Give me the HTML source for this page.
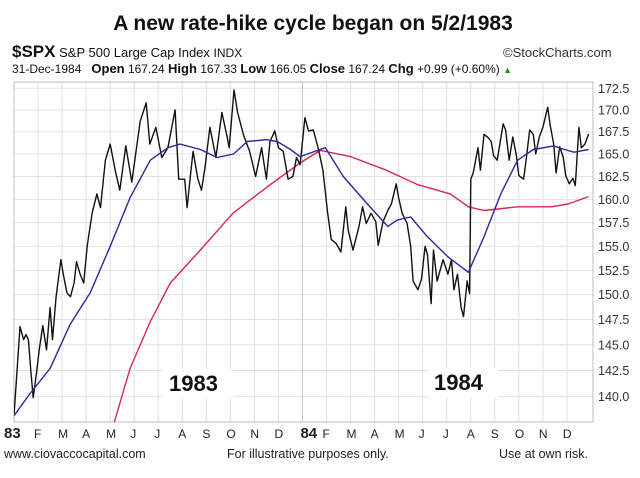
<!DOCTYPE html>
<html><head><meta charset="utf-8"><style>
html,body{margin:0;padding:0;background:#fff;}
body{width:640px;height:478px;position:relative;overflow:hidden;font-family:"Liberation Sans",Arial,sans-serif;}
.t{position:absolute;white-space:nowrap;color:#111;}
</style></head><body>
<div class="t" style="left:0;width:626px;text-align:center;top:12px;font-size:21px;font-weight:bold;">A new rate-hike cycle began on 5/2/1983</div>
<div class="t" style="left:12px;top:42px;font-size:13px;"><b style="font-size:17px;">$SPX</b> S&amp;P 500 Large Cap Index <span style="font-size:12px">INDX</span></div>
<div class="t" style="left:503px;top:45px;font-size:13px;color:#333;">©StockCharts.com</div>
<div class="t" style="left:12px;top:61px;font-size:12px;">31-Dec-1984&nbsp;&nbsp; <b style="font-size:13px">Open</b> 167.24 <b style="font-size:13px">High</b> 167.33 <b style="font-size:13px">Low</b> 166.05 <b style="font-size:13px">Close</b> 167.24 <b style="font-size:13px">Chg</b> +0.99 (+0.60%) <span style="color:#2a8a2a;font-size:9px">▲</span></div>
<svg id="chart" width="640" height="478" style="position:absolute;left:0;top:0;" xmlns="http://www.w3.org/2000/svg"></svg>
<div class="t" style="left:4px;top:447px;font-size:12.5px;color:#222;">www.ciovaccocapital.com</div>
<div class="t" style="left:227px;top:447px;font-size:12.5px;color:#222;">For illustrative purposes only.</div>
<div class="t" style="left:499px;top:447px;font-size:12.5px;color:#222;">Use at own risk.</div>
<script>
const yTicks=[140,142.5,145,147.5,150,152.5,155,157.5,160,162.5,165,167.5,170,172.5];
const monthLabels=["83","F","M","A","M","J","J","A","S","O","N","D","84","F","M","A","M","J","J","A","S","O","N","D"];
const closeT=[0,.25,.4,.5,.6,.7,.8,.95,1.05,1.2,1.35,1.5,1.6,1.75,1.95,2.05,2.2,2.35,2.5,2.6,2.75,2.9,3.05,3.25,3.45,3.6,3.8,4.0,4.2,4.4,4.65,4.9,5.25,5.5,5.65,5.9,6.15,6.4,6.7,6.85,7.1,7.2,7.35,7.45,7.65,7.8,7.95,8.15,8.4,8.65,8.85,8.95,9.15,9.3,9.55,9.8,10.05,10.3,10.5,10.65,10.85,11.0,11.2,11.4,11.6,11.75,11.9,12.1,12.25,12.45,12.65,12.85,13.05,13.2,13.4,13.6,13.8,13.9,14.1,14.35,14.5,14.65,14.85,15.05,15.15,15.35,15.55,15.7,15.9,16.0,16.15,16.35,16.5,16.6,16.8,16.95,17.1,17.2,17.35,17.45,17.6,17.85,18.05,18.2,18.3,18.45,18.6,18.7,18.85,18.95,19.0,19.1,19.3,19.4,19.55,19.7,19.85,19.95,20.1,20.35,20.45,20.6,20.75,20.9,21.0,21.2,21.3,21.45,21.6,21.7,21.85,22.0,22.2,22.3,22.45,22.55,22.7,22.85,22.95,23.1,23.25,23.35,23.5,23.6,23.75,23.9];
const closeV=[138.2,146.8,145.5,146,145.5,142.5,139.9,142.5,144.5,146.9,144.5,148.7,145.5,149.8,153.6,152.1,150.2,149.8,151.2,153.4,152.1,151.2,155.1,158.5,160.6,159.1,164.3,166.1,163.3,161,165.9,161.9,168.7,170.8,166.1,168,164.6,165.7,170,162.2,162.2,159.1,162.9,165.3,162.2,161,163.6,168,164.6,169.7,167.1,165.7,172.3,169.7,167.1,165.3,162.5,165.7,162.2,166.4,167.6,165.7,165.3,162.2,162.5,164.6,163.8,169.1,167.6,167.7,165.7,163.2,158.5,155.7,155.3,154.4,159.2,156.7,154.6,157.1,159.2,157.4,158.5,157.6,155.1,157.6,158.8,159.5,161.7,160.2,158.5,157.4,155,151.4,150.5,151.6,155,154.1,149.1,154.6,151.4,153.6,152.1,153.6,150.5,152.1,148.7,147.8,151.4,150.1,162.2,162.9,165.7,163.2,167.2,166.9,166.4,164.8,164.3,168.4,167.7,164.3,166.9,164.8,162.6,162.2,164.3,167.7,167.2,165,166.9,168,170.3,168.3,166.1,162.9,165.8,164.6,162.6,161.7,162.3,161.5,168,165.7,166.1,167.24];
const ma50T=[0,.67,1.5,2.33,3.17,4,4.83,5.67,6.4,6.9,7.75,8.45,9.13,9.7,10.5,10.95,11.5,11.9,12.95,13.7,14.7,15.55,15.95,16.5,17.2,18.05,18.9,19.55,20.25,20.95,21.6,22.45,22.9,23.3,23.9];
const ma50V=[138.2,140.3,142.7,147,150.2,155,160.2,164.3,165.7,166.1,165.5,164.6,165,166.4,166.6,166.4,165.5,164.7,165.7,162.5,159.5,157.1,157.8,158.1,156,153.9,152.3,156,160.6,164.3,165.5,165.9,165.5,165.2,165.5];
const ma200T=[4.08,4.83,5.67,6.5,7.75,9.1,10.5,11.9,12.75,14,15.4,16.8,18.15,18.9,19.55,20.95,22.35,23.05,23.9];
const ma200V=[136.9,142.7,147.3,151.2,154.6,158.5,161.3,164,165.4,164.7,163.3,161.6,160.6,159.2,158.8,159.2,159.2,159.5,160.3];

const NS="http://www.w3.org/2000/svg";
const svg=document.getElementById('chart');
const L=14,R=593,T=82,B=422;
const xS=t=>L+t*24.04;
const yS=v=>88.3+(Math.log(172.5)-Math.log(v))*1477;
function mk(tag,attrs,parent){const e=document.createElementNS(NS,tag);for(const k in attrs)e.setAttribute(k,attrs[k]);(parent||svg).appendChild(e);return e;}
const grid=mk('g',{});


yTicks.forEach(v=>{
  const y=yS(v);
  const ln=mk('line',{x1:L,x2:R,y1:y,y2:y,stroke:'#e2e2e2','stroke-width':1},grid);
  
  
  const tx=mk('text',{x:598,y:y+4.5,'font-size':12.5,fill:'#333','font-family':'Liberation Sans, Arial, sans-serif'});
  tx.textContent=v.toFixed(1);
  
  
});
monthLabels.forEach((m,i)=>{
  const x=xS(i);
  const ln=mk('line',{x1:x,x2:x,y1:T,y2:B,stroke:(m==='84')?'#c8c8c8':'#e2e2e2','stroke-width':1},grid);
  
  
  const bold=(m==='83'||m==='84');
  const tx=mk('text',{x:x+(bold?0:0),y:438,'font-size':bold?15:12,'font-weight':bold?'bold':'normal','text-anchor':bold&&i===0?'start':'middle',fill:'#222','font-family':'Liberation Sans, Arial, sans-serif'});
  if(i===0)tx.setAttribute('x',x-10);
  tx.setAttribute('text-anchor', 'start');
  tx.setAttribute('x', i===0? 4 : (bold? x-2 : x-4));
  tx.textContent=m;
  
  
});
const frame=mk('rect',{x:L,y:T,width:R-L,height:B-T,fill:'none',stroke:'#bdbdbd','stroke-width':1});


mk('clipPath',{id:'pc'}).appendChild(Object.assign(document.createElementNS(NS,'rect'),{}));
document.querySelector('#pc rect')||0;
const cp=document.getElementById('pc');cp.innerHTML='';mk('rect',{x:L,y:T,width:R-L,height:B-T},cp);
function series(ts,vs,color,w,name){
  const d=ts.map((t,i)=>(i?'L':'M')+xS(t).toFixed(1)+' '+yS(vs[i]).toFixed(1)).join(' ');
  const p=mk('path',{d:d,fill:'none',stroke:color,'stroke-width':w,'clip-path':'url(#pc)','stroke-linejoin':'round'});
  
  
}
series(ma200T,ma200V,'#d8284a',1.4,'ma200-line');
series(closeT,closeV,'#111',1.4,'close-line');
series(ma50T,ma50V,'#2a2a9a',1.4,'ma50-line');
function yearLabel(txt,x,y,name){
  const r=mk('rect',{x:x-6,y:y-22,width:70,height:30,fill:'#fff'});
  const t=mk('text',{x:x,y:y,'font-size':22,'font-weight':'bold',fill:'#111','font-family':'Liberation Sans, Arial, sans-serif'});
  t.textContent=txt;
  
  
}
yearLabel('1983',169,391,'year-label-1983');
yearLabel('1984',434,390,'year-label-1984');
</script>
</body></html>
